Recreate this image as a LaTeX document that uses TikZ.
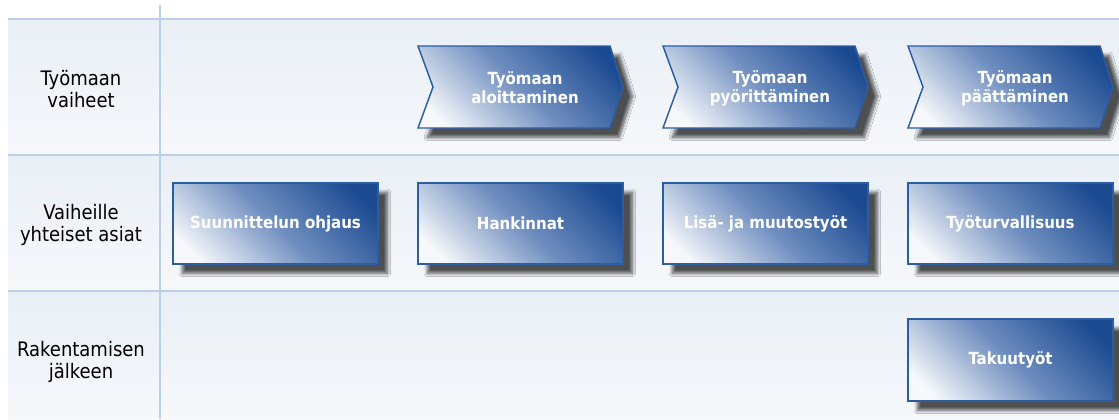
\documentclass[tikz,border=0pt]{standalone}
\usepackage{fontspec}
\setmainfont{DejaVu Sans Condensed}
\usetikzlibrary{shadows.blur}
\definecolor{gridline}{HTML}{BCCFE6}
\definecolor{rowtop}{HTML}{E9EFF6}
\definecolor{rowbot}{HTML}{F6F8FB}
\definecolor{boxdark}{HTML}{1B4A91}
\definecolor{boxmid}{HTML}{6F8EBF}
\definecolor{boxlight}{HTML}{F6F8FB}
\definecolor{boxedge}{HTML}{2C5CA2}
% diagonal ramp used inside the boxes
\pgfdeclareverticalshading{boxramp}{100bp}{%
  color(0bp)=(boxlight); color(22bp)=(boxlight); color(50bp)=(boxmid);
  color(78bp)=(boxdark); color(100bp)=(boxdark)}
\tikzset{
  rowband/.style={top color=rowtop, bottom color=rowbot, draw=none},
  gridrule/.style={draw=gridline, line width=1.5pt},
  boxfill/.style={draw=boxedge, line width=1.1pt, shading=boxramp,
    shading angle=-45,
    blur shadow={shadow xshift=7pt, shadow yshift=-7pt, shadow blur steps=8,
      shadow blur radius=2.5pt, shadow opacity=68}},
  boxtext/.style={text=white, font=\fontsize{12.5}{14.3}\selectfont\bfseries, align=center},
  rowlabel/.style={text=black, font=\fontsize{15}{16.5}\selectfont, align=center}
}
\begin{document}
\begin{tikzpicture}[x=0.75pt,y=-0.75pt]
\useasboundingbox (0,0) rectangle (1119,419);
\fill[white] (0,0) rectangle (1119,419);
% row bands
\path[rowband] (8,19) rectangle (1119,155);
\path[rowband] (8,155) rectangle (1119,291);
\path[rowband] (8,291) rectangle (1119,419);
% grid lines
\draw[gridrule] (8,19) -- (1119,19);
\draw[gridrule] (8,155) -- (1119,155);
\draw[gridrule] (8,291) -- (1119,291);
\draw[gridrule, line width=1pt] (160,5) -- (160,419);
% row labels
\node[rowlabel] (l1) at (81,89) {Työmaan\\vaiheet};
\node[rowlabel] (l2) at (81,225) {Vaiheille\\yhteiset asiat};
\node[rowlabel] (l3) at (81,362) {Rakentamisen\\jälkeen};
% phase chevrons
\foreach \x/\n in {418/c1,663/c2,908/c3}{
  \path[boxfill] (\x,46) -- (\x+192,46) -- (\x+205,87) -- (\x+192,128)
    -- (\x,128) -- (\x+15,87) -- cycle;
  \coordinate (\n) at (\x+107,88);
}
\node[boxtext] (t1) at (c1) {Työmaan\\aloittaminen};
\node[boxtext] (t2) at (c2) {Työmaan\\pyörittäminen};
\node[boxtext] (t3) at (c3) {Työmaan\\päättäminen};
% common topics
\foreach \x/\n in {173/r1,418/r2,663/r3,908/r4}{
  \path[boxfill] (\x,183) rectangle (\x+205,264);
  \coordinate (\n) at (\x+102.5,223.5);
}
\node[boxtext] (s1) at (r1) {Suunnittelun ohjaus};
\node[boxtext] (s2) at (r2) {Hankinnat};
\node[boxtext] (s3) at (r3) {Lisä- ja muutostyöt};
\node[boxtext] (s4) at (r4) {Työturvallisuus};
% after construction
\path[boxfill] (908,319) rectangle (1113,401);
\coordinate (r5) at (1010.5,360);
\node[boxtext] (s5) at (r5) {Takuutyöt};
\end{tikzpicture}
\end{document}
